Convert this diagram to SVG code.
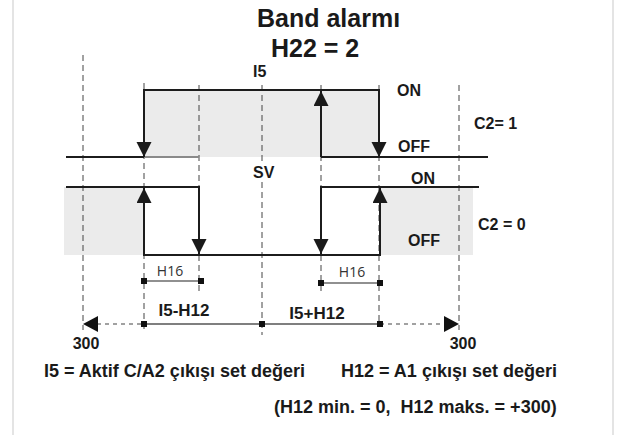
<svg xmlns="http://www.w3.org/2000/svg" width="617" height="435" viewBox="0 0 617 435">
<style>
text{font-family:"Liberation Sans",Arial,sans-serif;font-weight:bold;fill:#1a1a1a}
.t16{font-size:16px}
.t17{font-size:17px}
.t18{font-size:18px}
.t25{font-size:25px}
.small{font-family:"Open Sans","Noto Sans",sans-serif;font-weight:normal;font-size:14px;fill:#333}
.dash{stroke:#444;stroke-width:1;stroke-dasharray:6 4;fill:none}
.ln{stroke:#1c1c1c;stroke-width:2;fill:none}
.fill{fill:#ebebeb}
.dot{stroke:#444;stroke-width:1.2;stroke-dasharray:4 4;fill:none}
.frame{stroke:#e4e4e4;stroke-width:2}
</style>
<defs>
<marker id="ah" markerUnits="userSpaceOnUse" markerWidth="16" markerHeight="16" refX="15" refY="7.5" orient="auto">
<path d="M0,0 L15,7.5 L0,15 Z" fill="#1a1a1a"/>
</marker>
</defs>
<rect width="617" height="435" fill="#fff"/>
<line class="frame" x1="13" y1="0" x2="13" y2="435"/>
<line class="frame" x1="613" y1="0" x2="613" y2="435"/>

<g id="title">
<text class="t25" x="257" y="27">Band alarmı</text>
<text class="t25" x="271" y="57">H22 = 2</text>
</g>

<g id="fills">
<rect class="fill" x="144" y="90" width="235" height="67"/>
<rect class="fill" x="64" y="187" width="80" height="68"/>
<rect class="fill" x="380" y="187" width="93" height="68"/>
</g>

<g id="guides">
<line class="dash" x1="83" y1="55" x2="83" y2="330"/>
<line class="dash" x1="144" y1="83" x2="144" y2="332"/>
<line class="dash" x1="199" y1="85" x2="199" y2="293"/>
<line class="dash" x1="262" y1="85" x2="262" y2="164"/>
<line class="dash" x1="262" y1="182" x2="262" y2="335"/>
<line class="dash" x1="321" y1="85" x2="321" y2="293"/>
<line class="dash" x1="379" y1="85" x2="379" y2="327"/>
<line class="dash" x1="459" y1="85" x2="459" y2="330"/>
</g>

<g id="c2-1">
<line class="ln" x1="66" y1="157" x2="144" y2="157"/>
<line stroke="#8a8a8a" stroke-width="2" x1="144" y1="157" x2="199" y2="157"/>
<line class="ln" x1="321" y1="157" x2="488" y2="157"/>
<line class="ln" x1="143" y1="90" x2="380" y2="90"/>
<line class="ln" x1="144" y1="90" x2="144" y2="157" marker-end="url(#ah)"/>
<line class="ln" x1="321" y1="157" x2="321" y2="91" marker-end="url(#ah)"/>
<line class="ln" x1="379" y1="90" x2="379" y2="157" marker-end="url(#ah)"/>
</g>

<g id="c2-0">
<line class="ln" x1="66" y1="187" x2="200" y2="187"/>
<line class="ln" x1="320" y1="187" x2="479" y2="187"/>
<line class="ln" x1="143" y1="255" x2="381" y2="255"/>
<line class="ln" x1="144" y1="255" x2="144" y2="188" marker-end="url(#ah)"/>
<line class="ln" x1="199" y1="187" x2="199" y2="254" marker-end="url(#ah)"/>
<line class="ln" x1="321" y1="187" x2="321" y2="254" marker-end="url(#ah)"/>
<line class="ln" x1="380" y1="255" x2="380" y2="188" marker-end="url(#ah)"/>
</g>

<g id="labels">
<text class="t16" x="253" y="77">I5</text>
<text class="t16" x="397" y="96">ON</text>
<text class="t16" x="398" y="152">OFF</text>
<text class="t16" x="474" y="129">C2= 1</text>
<text class="t16" x="253" y="178">SV</text>
<text class="t16" x="411" y="184">ON</text>
<text class="t16" x="478" y="230">C2 = 0</text>
<text class="t16" x="408" y="246">OFF</text>
</g>

<g id="h16-left">
<text class="small" x="170" y="276" text-anchor="middle">H16</text>
<line stroke="#222" stroke-width="1.2" x1="144" y1="281" x2="201" y2="281"/>
<rect x="141" y="278" width="6" height="6" fill="#111"/>
<rect x="198" y="278" width="6" height="6" fill="#111"/>
</g>
<g id="h16-right">
<text class="small" x="352" y="277" text-anchor="middle">H16</text>
<line stroke="#222" stroke-width="1.2" x1="321" y1="283" x2="380" y2="283"/>
<rect x="318" y="280" width="6" height="6" fill="#111"/>
<rect x="377" y="280" width="6" height="6" fill="#111"/>
</g>

<g id="axis">
<line class="dot" x1="97" y1="324" x2="144" y2="324"/>
<line class="dot" x1="380" y1="324" x2="446" y2="324"/>
<line stroke="#555" stroke-width="1.6" x1="144" y1="324" x2="380" y2="324"/>
<polygon points="83,324 98,316 98,332" fill="#111"/>
<polygon points="459,324 444,316 444,332" fill="#111"/>
<rect x="141" y="321" width="6" height="6" fill="#111"/>
<rect x="259" y="321" width="6" height="6" fill="#111"/>
<rect x="377" y="321" width="6" height="6" fill="#111"/>
<text class="t17" x="184" y="316" text-anchor="middle">I5-H12</text>
<text class="t17" x="317" y="319" text-anchor="middle">I5+H12</text>
<text class="t16" x="86" y="349" text-anchor="middle">300</text>
<text class="t16" x="463" y="349" text-anchor="middle">300</text>
</g>

<g id="legend">
<text class="t18" x="44" y="377">I5 = Aktif C/A2 çıkışı set değeri</text>
<text class="t18" x="341" y="377">H12 = A1 çıkışı set değeri</text>
<text class="t18" x="274" y="413" xml:space="preserve">(H12 min. = 0,  H12 maks. = +300)</text>
</g>
</svg>
